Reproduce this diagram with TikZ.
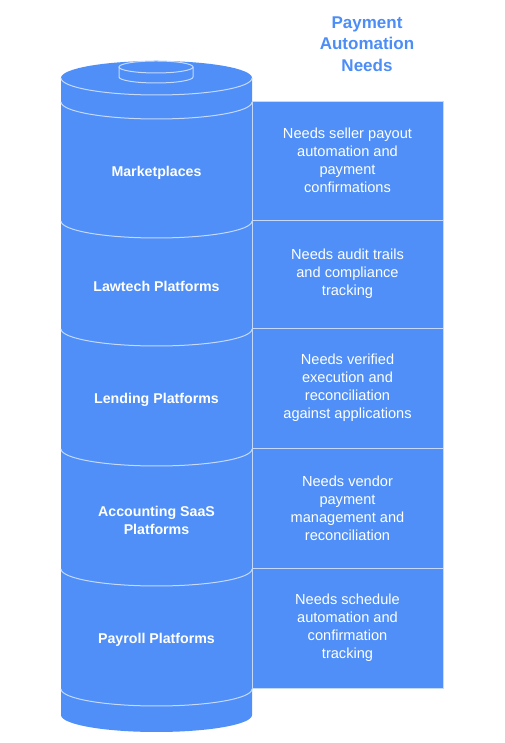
\documentclass[tikz,border=0pt]{standalone}
\usepackage{fontspec}
\setmainfont{Liberation Sans}
\definecolor{cylblue}{HTML}{4F8FF7}
\definecolor{edgeblue}{HTML}{C4D9FC}
\definecolor{titleblue}{HTML}{4C8DF6}
\begin{document}
\begin{tikzpicture}[x=1pt,y=1pt,
  seg/.style={draw=edgeblue,line width=1pt},
  boxstyle/.style={fill=cylblue,draw=edgeblue,line width=1pt},
  leftlabel/.style={text=white,font=\fontsize{14.2}{18}\selectfont\bfseries,align=center},
  needtext/.style={text=white,font=\fontsize{14.6}{18}\selectfont,align=center},
  titletext/.style={text=titleblue,font=\fontsize{17}{21.5}\selectfont\bfseries,align=center}]
\useasboundingbox (0,0) rectangle (504,743);
% cylinder body
\fill[cylblue] (61,665) -- (61,28) arc[start angle=180,end angle=360,x radius=95.5,y radius=17] -- (252,665) arc[start angle=0,end angle=180,x radius=95.5,y radius=17] -- cycle;
% segment arcs
\foreach \yy in {665,641,522,414,294,174,54}{
  \draw[seg] (61,\yy) arc[start angle=180,end angle=360,x radius=95.5,y radius=17];
}
% small cap cylinder
\fill[cylblue] (119,676) -- (119,666) arc[start angle=180,end angle=360,x radius=37,y radius=6] -- (193,676) arc[start angle=0,end angle=180,x radius=37,y radius=6] -- cycle;
\draw[seg] (119,676) -- (119,666) arc[start angle=180,end angle=360,x radius=37,y radius=6] -- (193,676);
\draw[seg] (156,676) ellipse[x radius=37,y radius=6];
% boxes
\draw[boxstyle] (252,641) rectangle (443,522);
\draw[boxstyle] (252,522) rectangle (443,414);
\draw[boxstyle] (252,414) rectangle (443,294);
\draw[boxstyle] (252,294) rectangle (443,174);
\draw[boxstyle] (252,174) rectangle (443,54);
\draw[edgeblue,line width=1pt] (252,641) -- (252,54);
% left labels
\node[leftlabel] (l1) at (156.5,570) {Marketplaces};
\node[leftlabel] (l2) at (156.5,457) {Lawtech Platforms};
\node[leftlabel] (l3) at (156.5,343) {Lending Platforms};
\node[leftlabel] (l4) at (156.5,223) {Accounting SaaS\\Platforms};
\node[leftlabel] (l5) at (156.5,103) {Payroll Platforms};
% right texts
\node[needtext] (n1) at (347.5,583) {Needs seller payout\\automation and\\payment\\confirmations};
\node[needtext] (n2) at (347.5,469) {Needs audit trails\\and compliance\\tracking};
\node[needtext] (n3) at (347.5,355) {Needs verified\\execution and\\reconciliation\\against applications};
\node[needtext] (n4) at (347.5,235) {Needs vendor\\payment\\management and\\reconciliation};
\node[needtext] (n5) at (347.5,115) {Needs schedule\\automation and\\confirmation\\tracking};
% title
\node[titletext] (title) at (367,699) {Payment\\Automation\\Needs};
\end{tikzpicture}
\end{document}
